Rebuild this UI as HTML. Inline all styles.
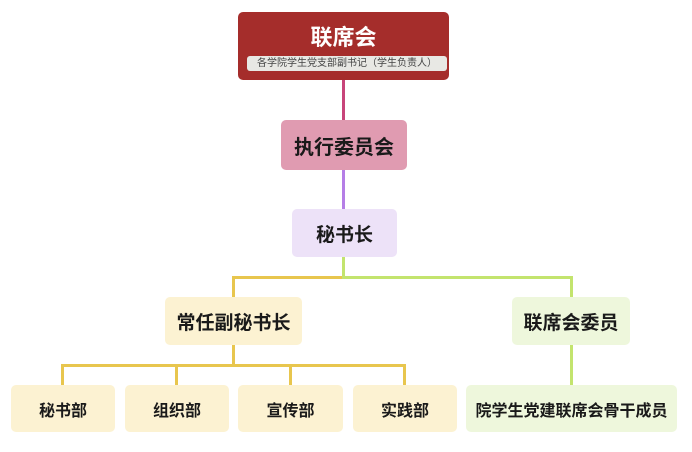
<!DOCTYPE html>
<html><head><meta charset="utf-8">
<style>
html,body{margin:0;padding:0;background:#fff;}
body{width:692px;height:452px;position:relative;overflow:hidden;font-family:"Liberation Sans","Noto Sans CJK SC",sans-serif;}
.b{position:absolute;display:flex;align-items:center;justify-content:center;border-radius:5px;font-weight:bold;color:#1a1a1a;box-sizing:border-box;white-space:nowrap;}
.l{position:absolute;}
</style></head><body>
<!-- lines -->
<div class="l" style="left:342px;top:80px;width:3px;height:40px;background:#c8457a;"></div>
<div class="l" style="left:342px;top:170px;width:3px;height:39px;background:#b57ee6;"></div>
<div class="l" style="left:342px;top:257px;width:3px;height:21px;background:#c3e46e;"></div>
<div class="l" style="left:232px;top:276px;width:112px;height:3px;background:#e8c64e;"></div>
<div class="l" style="left:342px;top:276px;width:231px;height:3px;background:#c3e46e;"></div>
<div class="l" style="left:232px;top:276px;width:3px;height:21px;background:#e8c64e;"></div>
<div class="l" style="left:570px;top:276px;width:3px;height:21px;background:#c3e46e;"></div>
<div class="l" style="left:232px;top:345px;width:3px;height:21px;background:#e8c64e;"></div>
<div class="l" style="left:61px;top:364px;width:345px;height:3px;background:#e8c64e;"></div>
<div class="l" style="left:61px;top:364px;width:3px;height:21px;background:#e8c64e;"></div>
<div class="l" style="left:175px;top:364px;width:3px;height:21px;background:#e8c64e;"></div>
<div class="l" style="left:289px;top:364px;width:3px;height:21px;background:#e8c64e;"></div>
<div class="l" style="left:403px;top:364px;width:3px;height:21px;background:#e8c64e;"></div>
<div class="l" style="left:570px;top:345px;width:3px;height:40px;background:#c3e46e;"></div>

<!-- top -->
<div class="b" style="left:238px;top:12px;width:211px;height:68px;background:#a52d2b;display:block;">
  <div style="position:absolute;left:0;right:0;top:13px;text-align:center;color:#fff;font-size:22px;line-height:26px;">联席会</div>
  <div style="position:absolute;left:9px;width:200px;top:44px;height:15px;background:#e8e8e4;border-radius:3px;color:#444;font-size:10px;line-height:15px;font-weight:normal;text-align:center;">各学院学生党支部副书记（学生负责人）</div>
</div>
<div class="b" style="left:281px;top:120px;width:126px;height:50px;background:#e09bb1;font-size:20px;">执行委员会</div>
<div class="b" style="left:292px;top:209px;width:105px;height:48px;background:#ede2f8;font-size:19px;">秘书长</div>
<div class="b" style="left:165px;top:297px;width:137px;height:48px;background:#fcf2d2;font-size:19px;">常任副秘书长</div>
<div class="b" style="left:512px;top:297px;width:118px;height:48px;background:#eef7dc;font-size:19px;">联席会委员</div>
<div class="b" style="left:11px;top:385px;width:104px;height:47px;background:#fcf2d2;font-size:16px;">秘书部</div>
<div class="b" style="left:125px;top:385px;width:104px;height:47px;background:#fcf2d2;font-size:16px;">组织部</div>
<div class="b" style="left:238px;top:385px;width:105px;height:47px;background:#fcf2d2;font-size:16px;">宣传部</div>
<div class="b" style="left:353px;top:385px;width:104px;height:47px;background:#fcf2d2;font-size:16px;">实践部</div>
<div class="b" style="left:466px;top:385px;width:211px;height:47px;background:#eef7dc;font-size:16px;">院学生党建联席会骨干成员</div>
</body></html>
